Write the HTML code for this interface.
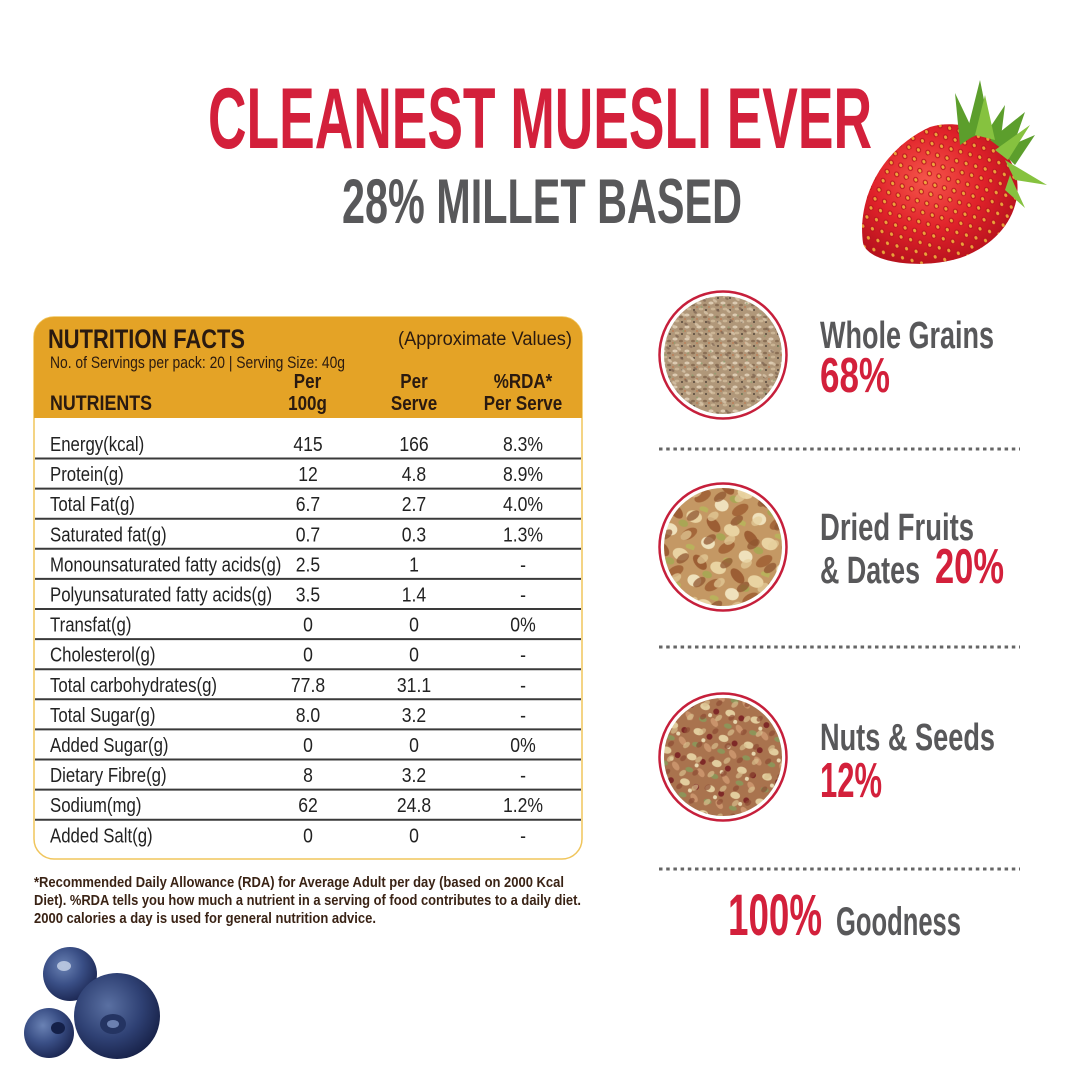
<!DOCTYPE html>
<html><head><meta charset="utf-8"><style>
html,body{margin:0;padding:0;background:#fff;}
svg{display:block;}
text{font-family:"Liberation Sans",Arial,sans-serif;}
</style></head><body>
<svg width="1081" height="1080" viewBox="0 0 1081 1080" xmlns="http://www.w3.org/2000/svg">
<defs>
  <radialGradient id="sb" cx="0.42" cy="0.4" r="0.65">
    <stop offset="0" stop-color="#f5564a"/>
    <stop offset="0.55" stop-color="#e0222a"/>
    <stop offset="1" stop-color="#b3101c"/>
  </radialGradient>
  <pattern id="seeds" width="15" height="13" patternUnits="userSpaceOnUse" patternTransform="rotate(-25)">
    <ellipse cx="4" cy="4" rx="2.6" ry="3" fill="#b8121e"/>
    <ellipse cx="4" cy="4" rx="1.5" ry="1.9" fill="#eeb23c"/>
    <ellipse cx="11.5" cy="10.5" rx="2.6" ry="3" fill="#b8121e"/>
    <ellipse cx="11.5" cy="10.5" rx="1.5" ry="1.9" fill="#eeb23c"/>
  </pattern>
  <radialGradient id="bb" cx="0.38" cy="0.35" r="0.7">
    <stop offset="0" stop-color="#6a82b4"/>
    <stop offset="0.5" stop-color="#3a4f86"/>
    <stop offset="1" stop-color="#1a2550"/>
  </radialGradient>
  <radialGradient id="bb2" cx="0.4" cy="0.38" r="0.7">
    <stop offset="0" stop-color="#5a70a2"/>
    <stop offset="0.55" stop-color="#2f4174"/>
    <stop offset="1" stop-color="#141d42"/>
  </radialGradient>
  <pattern id="pg" width="12" height="12" patternUnits="userSpaceOnUse">
    <rect width="12" height="12" fill="#b09779"/>
    <ellipse cx="3" cy="3" rx="2.6" ry="1.5" fill="#dccbb2"/>
    <ellipse cx="9" cy="5" rx="2" ry="1.3" fill="#8a6f55"/>
    <ellipse cx="5" cy="9" rx="2.3" ry="1.4" fill="#cbb595"/>
    <circle cx="10" cy="10" r="1" fill="#54463b"/>
    <circle cx="1" cy="7" r="0.9" fill="#c07a52"/>
  </pattern>
  <pattern id="pg2" width="17" height="15" patternUnits="userSpaceOnUse" patternTransform="rotate(37)">
    <ellipse cx="4" cy="5" rx="2.4" ry="1.4" fill="#d8c6aa" opacity="0.8"/>
    <ellipse cx="12" cy="11" rx="2" ry="1.2" fill="#7c6350" opacity="0.7"/>
    <circle cx="14" cy="3" r="1" fill="#8aa070" opacity="0.7"/>
  </pattern>
  <pattern id="pn" width="40" height="40" patternUnits="userSpaceOnUse" patternTransform="rotate(20)">
    <rect width="40" height="40" fill="#c49864"/>
    <ellipse cx="10" cy="9" rx="9" ry="5" fill="#9c5e34" transform="rotate(30 10 9)"/>
    <ellipse cx="29" cy="8" rx="8" ry="6" fill="#e9d3a2"/>
    <ellipse cx="30" cy="26" rx="9" ry="5" fill="#a4673a" transform="rotate(-50 30 26)"/>
    <ellipse cx="11" cy="28" rx="7" ry="6" fill="#efe1bc"/>
    <ellipse cx="21" cy="18" rx="5" ry="3.5" fill="#a9a655"/>
    <ellipse cx="36" cy="38" rx="5" ry="3" fill="#b9b15c"/>
  </pattern>
  <pattern id="pn2" width="33" height="29" patternUnits="userSpaceOnUse" patternTransform="rotate(-35)">
    <ellipse cx="8" cy="8" rx="7" ry="4" fill="#8f5530" opacity="0.75"/>
    <ellipse cx="24" cy="20" rx="6" ry="4" fill="#e6cf9c" opacity="0.7"/>
  </pattern>
  <pattern id="pm" width="26" height="26" patternUnits="userSpaceOnUse" patternTransform="rotate(15)">
    <rect width="26" height="26" fill="#a9734e"/>
    <ellipse cx="6" cy="6" rx="5" ry="3.5" fill="#e2cd9e"/>
    <ellipse cx="18" cy="8" rx="3" ry="3" fill="#7e2927"/>
    <ellipse cx="19" cy="19" rx="5" ry="3" fill="#c9936b" transform="rotate(40 19 19)"/>
    <ellipse cx="7" cy="19" rx="4" ry="2.5" fill="#8d9459"/>
    <circle cx="13" cy="13" r="2" fill="#e8d8b0"/>
  </pattern>
  <pattern id="pm2" width="21" height="19" patternUnits="userSpaceOnUse" patternTransform="rotate(-40)">
    <ellipse cx="5" cy="5" rx="4" ry="2.5" fill="#d9bf8e" opacity="0.7"/>
    <ellipse cx="15" cy="13" rx="3.5" ry="2.5" fill="#8e4b33" opacity="0.7"/>
  </pattern>
  <clipPath id="c1"><circle cx="723" cy="355" r="59"/></clipPath>
  <clipPath id="c2"><circle cx="723" cy="547" r="59"/></clipPath>
  <clipPath id="c3"><circle cx="723" cy="757" r="59"/></clipPath>
  <clipPath id="sclip"><path d="M863 243 C857 200 880 150 930 127 C965 117 1000 135 1015 170 C1025 205 1005 242 960 258 C920 270 868 263 863 243 Z"/></clipPath>
</defs>

<!-- Titles -->
<text x="208" y="148" font-size="86" font-weight="bold" fill="#d3203b" textLength="664" lengthAdjust="spacingAndGlyphs">CLEANEST MUESLI EVER</text>
<text x="342" y="223" font-size="63" font-weight="bold" fill="#58585a" textLength="400" lengthAdjust="spacingAndGlyphs">28% MILLET BASED</text>

<!-- Strawberry -->
<g>
  <path d="M863 243 C857 200 880 150 930 127 C965 117 1000 135 1015 170 C1025 205 1005 242 960 258 C920 270 868 263 863 243 Z" fill="url(#sb)"/>
  <rect x="850" y="110" width="190" height="170" fill="url(#seeds)" clip-path="url(#sclip)" opacity="0.9"/>
  <g fill="#5c9e2c">
    <polygon points="965,140 980,80 990,130"/>
    <polygon points="960,145 955,93 975,135"/>
    <polygon points="985,135 1005,105 1000,145"/>
    <polygon points="990,140 1025,112 1010,155"/>
    <polygon points="1000,150 1035,135 1015,165"/>
  </g>
  <g fill="#86c23f">
    <polygon points="1005,160 1047,185 1015,180"/>
    <polygon points="1010,175 1025,208 1005,190"/>
    <polygon points="975,135 985,95 995,140"/>
    <polygon points="995,150 1030,125 1008,160"/>
  </g>
</g>

<!-- Nutrition table -->
<path d="M54 317 H562 A20 20 0 0 1 582 337 V839 A20 20 0 0 1 562 859 H54 A20 20 0 0 1 34 839 V337 A20 20 0 0 1 54 317 Z" fill="#fff" stroke="#f0c55c" stroke-width="1.5"/>
<path d="M54 317 H562 A20 20 0 0 1 582 337 V418 H34 V337 A20 20 0 0 1 54 317 Z" fill="#e4a326"/>

<g fill="#2a1a10">
  <text x="48" y="348" font-size="27" font-weight="bold" textLength="197" lengthAdjust="spacingAndGlyphs">NUTRITION FACTS</text>
  <text x="398" y="345" font-size="19" textLength="174" lengthAdjust="spacingAndGlyphs">(Approximate Values)</text>
  <text x="50" y="368" font-size="17" textLength="295" lengthAdjust="spacingAndGlyphs">No. of Servings per pack: 20 | Serving Size: 40g</text>
  <text x="50" y="410" font-size="21" font-weight="bold" textLength="102" lengthAdjust="spacingAndGlyphs">NUTRIENTS</text>
  <g font-size="20" font-weight="bold" text-anchor="middle">
    <g transform="translate(307.5 0) scale(0.85 1)"><text x="0" y="388">Per</text><text x="0" y="410">100g</text></g>
    <g transform="translate(414 0) scale(0.85 1)"><text x="0" y="388">Per</text><text x="0" y="410">Serve</text></g>
    <g transform="translate(523 0) scale(0.85 1)"><text x="0" y="388">%RDA*</text><text x="0" y="410">Per Serve</text></g>
  </g>
</g>

<g stroke="#3a3a3a" stroke-width="2">
  <line x1="35" x2="581" y1="458.5" y2="458.5"/>
  <line x1="35" x2="581" y1="488.6" y2="488.6"/>
  <line x1="35" x2="581" y1="518.7" y2="518.7"/>
  <line x1="35" x2="581" y1="548.8" y2="548.8"/>
  <line x1="35" x2="581" y1="578.9" y2="578.9"/>
  <line x1="35" x2="581" y1="609" y2="609"/>
  <line x1="35" x2="581" y1="639.1" y2="639.1"/>
  <line x1="35" x2="581" y1="669.2" y2="669.2"/>
  <line x1="35" x2="581" y1="699.3" y2="699.3"/>
  <line x1="35" x2="581" y1="729.4" y2="729.4"/>
  <line x1="35" x2="581" y1="759.5" y2="759.5"/>
  <line x1="35" x2="581" y1="789.6" y2="789.6"/>
  <line x1="35" x2="581" y1="819.7" y2="819.7"/>
</g>

<g fill="#222" font-size="20">
  <g transform="translate(50 0) scale(0.84 1)">
    <text x="0" y="451">Energy(kcal)</text>
    <text x="0" y="481.1">Protein(g)</text>
    <text x="0" y="511.2">Total Fat(g)</text>
    <text x="0" y="541.3">Saturated fat(g)</text>
    <text x="0" y="571.4">Monounsaturated fatty acids(g)</text>
    <text x="0" y="601.5">Polyunsaturated fatty acids(g)</text>
    <text x="0" y="631.6">Transfat(g)</text>
    <text x="0" y="661.7">Cholesterol(g)</text>
    <text x="0" y="691.8">Total carbohydrates(g)</text>
    <text x="0" y="721.9">Total Sugar(g)</text>
    <text x="0" y="752">Added Sugar(g)</text>
    <text x="0" y="782.1">Dietary Fibre(g)</text>
    <text x="0" y="812.2">Sodium(mg)</text>
    <text x="0" y="842.3">Added Salt(g)</text>
  </g>
  <g transform="translate(308 0) scale(0.88 1)" text-anchor="middle">
    <text x="0" y="451">415</text>
    <text x="0" y="481.1">12</text>
    <text x="0" y="511.2">6.7</text>
    <text x="0" y="541.3">0.7</text>
    <text x="0" y="571.4">2.5</text>
    <text x="0" y="601.5">3.5</text>
    <text x="0" y="631.6">0</text>
    <text x="0" y="661.7">0</text>
    <text x="0" y="691.8">77.8</text>
    <text x="0" y="721.9">8.0</text>
    <text x="0" y="752">0</text>
    <text x="0" y="782.1">8</text>
    <text x="0" y="812.2">62</text>
    <text x="0" y="842.3">0</text>
  </g>
  <g transform="translate(414 0) scale(0.88 1)" text-anchor="middle">
    <text x="0" y="451">166</text>
    <text x="0" y="481.1">4.8</text>
    <text x="0" y="511.2">2.7</text>
    <text x="0" y="541.3">0.3</text>
    <text x="0" y="571.4">1</text>
    <text x="0" y="601.5">1.4</text>
    <text x="0" y="631.6">0</text>
    <text x="0" y="661.7">0</text>
    <text x="0" y="691.8">31.1</text>
    <text x="0" y="721.9">3.2</text>
    <text x="0" y="752">0</text>
    <text x="0" y="782.1">3.2</text>
    <text x="0" y="812.2">24.8</text>
    <text x="0" y="842.3">0</text>
  </g>
  <g transform="translate(523 0) scale(0.88 1)" text-anchor="middle">
    <text x="0" y="451">8.3%</text>
    <text x="0" y="481.1">8.9%</text>
    <text x="0" y="511.2">4.0%</text>
    <text x="0" y="541.3">1.3%</text>
    <text x="0" y="571.4">-</text>
    <text x="0" y="601.5">-</text>
    <text x="0" y="631.6">0%</text>
    <text x="0" y="661.7">-</text>
    <text x="0" y="691.8">-</text>
    <text x="0" y="721.9">-</text>
    <text x="0" y="752">0%</text>
    <text x="0" y="782.1">-</text>
    <text x="0" y="812.2">1.2%</text>
    <text x="0" y="842.3">-</text>
  </g>
</g>

<!-- Footnote -->
<g fill="#3a2315" font-size="14.5" font-weight="bold">
  <text x="34" y="887" textLength="530" lengthAdjust="spacingAndGlyphs">*Recommended Daily Allowance (RDA) for Average Adult per day (based on 2000 Kcal</text>
  <text x="34" y="905" textLength="547" lengthAdjust="spacingAndGlyphs">Diet). %RDA tells you how much a nutrient in a serving of food contributes to a daily diet.</text>
  <text x="34" y="923" textLength="342" lengthAdjust="spacingAndGlyphs">2000 calories a day is used for general nutrition advice.</text>
</g>

<!-- Blueberries -->
<g>
  <circle cx="70" cy="974" r="27" fill="url(#bb)"/>
  <ellipse cx="64" cy="966" rx="7" ry="5" fill="#c9d4e8" opacity="0.8"/>
  <circle cx="49" cy="1033" r="25" fill="url(#bb)"/>
  <ellipse cx="58" cy="1028" rx="7" ry="6" fill="#142048"/>
  <circle cx="117" cy="1016" r="43" fill="url(#bb2)"/>
  <ellipse cx="113" cy="1024" rx="13" ry="10" fill="#243462"/>
  <ellipse cx="113" cy="1024" rx="6" ry="4" fill="#6b80b0"/>
</g>

<!-- Right side bowls -->
<g>
  <circle cx="723" cy="355" r="63.5" fill="#fff" stroke="#c61f3b" stroke-width="2.5"/>
  <rect x="660" y="292" width="126" height="126" fill="url(#pg)" clip-path="url(#c1)"/>
  <rect x="660" y="292" width="126" height="126" fill="url(#pg2)" clip-path="url(#c1)"/>
  <circle cx="723" cy="547" r="63.5" fill="#fff" stroke="#c61f3b" stroke-width="2.5"/>
  <rect x="660" y="484" width="126" height="126" fill="url(#pn)" clip-path="url(#c2)"/>
  <rect x="660" y="484" width="126" height="126" fill="url(#pn2)" clip-path="url(#c2)"/>
  <circle cx="723" cy="757" r="63.5" fill="#fff" stroke="#c61f3b" stroke-width="2.5"/>
  <rect x="660" y="694" width="126" height="126" fill="url(#pm)" clip-path="url(#c3)"/>
  <rect x="660" y="694" width="126" height="126" fill="url(#pm2)" clip-path="url(#c3)"/>
</g>

<g font-weight="bold">
  <text x="820" y="348" font-size="38" fill="#58585a" textLength="174" lengthAdjust="spacingAndGlyphs">Whole Grains</text>
  <text x="820" y="392" font-size="49" fill="#d3203b" textLength="70" lengthAdjust="spacingAndGlyphs">68%</text>
  <text x="820" y="540" font-size="38" fill="#58585a" textLength="154" lengthAdjust="spacingAndGlyphs">Dried Fruits</text>
  <text x="820" y="583" font-size="38" fill="#58585a" textLength="100" lengthAdjust="spacingAndGlyphs">&amp; Dates</text>
  <text x="935" y="583" font-size="49" fill="#d3203b" textLength="69" lengthAdjust="spacingAndGlyphs">20%</text>
  <text x="820" y="750" font-size="38" fill="#58585a" textLength="175" lengthAdjust="spacingAndGlyphs">Nuts &amp; Seeds</text>
  <text x="820" y="797" font-size="49" fill="#d3203b" textLength="62" lengthAdjust="spacingAndGlyphs">12%</text>
  <text x="728" y="935" font-size="58" fill="#d3203b" textLength="94" lengthAdjust="spacingAndGlyphs">100%</text>
  <text x="836" y="935" font-size="40" fill="#58585a" textLength="125" lengthAdjust="spacingAndGlyphs">Goodness</text>
</g>

<!-- Dotted separators -->
<g stroke="#666" stroke-width="3" stroke-dasharray="3.5 3.7">
  <line x1="659" x2="1020" y1="449" y2="449"/>
  <line x1="659" x2="1020" y1="647" y2="647"/>
  <line x1="659" x2="1020" y1="869" y2="869"/>
</g>
</svg>
</body></html>
